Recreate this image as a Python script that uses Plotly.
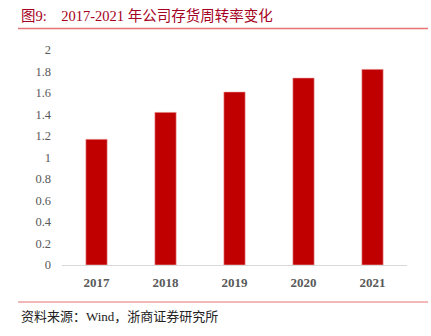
import plotly.graph_objects as go

years = ["2017", "2018", "2019", "2020", "2021"]
turnover = [1.17, 1.42, 1.61, 1.74, 1.82]
y_ticks = [0, 0.2, 0.4, 0.6, 0.8, 1, 1.2, 1.4, 1.6, 1.8, 2]
y_tick_text = ["0", "0.2", "0.4", "0.6", "0.8", "1", "1.2", "1.4", "1.6", "1.8", "2"]
title_text = "图9:    2017-2021 年公司存货周转率变化"
source_text = "资料来源：Wind，浙商证券研究所"

W, H = 431, 336
L, R, T, B = 62, 24, 50, 71

fig = go.Figure(go.Bar(
    x=years, y=turnover, marker=dict(color="#C00000", line=dict(color="#F2B8B8", width=0.6)),
    width=0.31,
))

def px(x):
    return (x - L) / (W - L - R)

def py(y):
    return (H - B - y) / (H - T - B)

fig.update_layout(
    width=W, height=H,
    margin=dict(l=L, r=R, t=T, b=B),
    paper_bgcolor="white", plot_bgcolor="white",
    showlegend=False,
    font=dict(family="Liberation Serif, Noto Sans CJK SC", color="#595959"),
    xaxis=dict(showgrid=False, showline=True, linecolor="#D9D9D9", linewidth=1,
               ticks="", tickfont=dict(size=13, color="#595959", family="Liberation Serif"),
               ticklabelstandoff=5),
    yaxis=dict(range=[0, 2], tickvals=y_ticks, ticktext=y_tick_text, showgrid=False,
               showline=False, zeroline=False, ticks="",
               tickfont=dict(size=12.5, color="#595959", family="Liberation Serif"),
               ticklabelstandoff=10),
    annotations=[
        dict(text=title_text, x=px(19), y=py(16), xref="paper", yref="paper",
             xanchor="left", yanchor="middle", showarrow=False,
             font=dict(size=14.5, color="#A50021", family="Liberation Serif, Noto Sans CJK SC")),
        dict(text=source_text, x=px(19), y=py(316), xref="paper", yref="paper",
             xanchor="left", yanchor="middle", showarrow=False,
             font=dict(size=13, color="#222222", family="Liberation Serif, Noto Sans CJK SC")),
    ],
    shapes=[
        dict(type="line", xref="paper", yref="paper", x0=px(18), x1=px(428), y0=py(28.5), y1=py(28.5),
             line=dict(color="#E57373", width=1.5)),
        dict(type="line", xref="paper", yref="paper", x0=px(18), x1=px(428), y0=py(302), y1=py(302),
             line=dict(color="#E57373", width=1.2)),
    ],
)
fig.update_xaxes(tickfont_weight="bold")

fig.write_html("out.html")
